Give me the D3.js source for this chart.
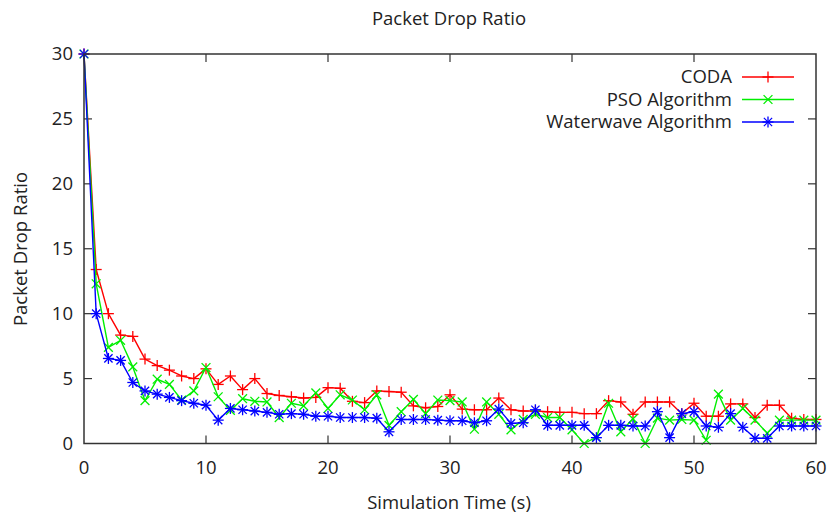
<!DOCTYPE html>
<html>
<head>
<meta charset="utf-8">
<script src="https://cdn.jsdelivr.net/npm/d3@7"></script>
<style>
  html, body { margin: 0; padding: 0; background: #ffffff; }
  svg text { font-family: "Open Sans", "DejaVu Sans", sans-serif; }
</style>
</head>
<body>
<svg id="chart"></svg>
<script>
// simulation time steps, 0..60 s
const timeSteps = d3.range(0, 61);

const codaValues = [
  30, 13.4, 10.0, 8.35, 8.25, 6.5, 6.0, 5.65, 5.2, 5.0,
  5.75, 4.55, 5.2, 4.15, 5.0, 3.85, 3.7, 3.6, 3.5, 3.55,
  4.3, 4.25, 3.25, 3.15, 4.05, 4.0, 3.95, 2.9, 2.75, 2.85,
  3.75, 2.65, 2.6, 2.6, 3.5, 2.6, 2.5, 2.5, 2.45, 2.4,
  2.4, 2.3, 2.3, 3.3, 3.2, 2.25, 3.2, 3.2, 3.2, 2.3,
  3.1, 2.1, 2.1, 3.05, 3.05, 2.0, 2.95, 2.95, 1.95, 1.85,
  1.85
];

const psoValues = [
  30, 12.3, 7.4, 7.95, 5.9, 3.3, 4.95, 4.55, 3.35, 4.05,
  5.85, 3.6, 2.55, 3.45, 3.25, 3.2, 2.0, 3.1, 2.9, 3.9,
  2.7, 3.75, 3.35, 2.6, 3.75, 1.4, 2.45, 3.4, 2.3, 3.35,
  3.3, 3.2, 1.1, 3.2, 2.25, 1.05, 1.85, 2.25, 2.0, 2.0,
  1.05, 0.0, 0.5, 3.1, 0.9, 1.9, 0.0, 1.95, 1.8, 1.85,
  1.8, 0.25, 3.8, 1.8, 2.7, 1.8, 0.8, 1.8, 1.8, 1.8,
  1.8
];

const waterwaveValues = [
  30, 10.0, 6.55, 6.4, 4.7, 4.05, 3.8, 3.55, 3.3, 3.1,
  2.95, 1.8, 2.7, 2.6, 2.5, 2.4, 2.25, 2.3, 2.25, 2.1,
  2.1, 2.0, 2.0, 2.0, 1.95, 0.9, 1.85, 1.85, 1.85, 1.8,
  1.75, 1.75, 1.6, 1.75, 2.65, 1.55, 1.6, 2.6, 1.4, 1.4,
  1.4, 1.4, 0.45, 1.4, 1.4, 1.35, 1.35, 2.45, 0.45, 2.3,
  2.45, 1.35, 1.25, 2.3, 1.25, 0.4, 0.4, 1.35, 1.35, 1.35,
  1.35
];

const xTicks = [0, 10, 20, 30, 40, 50, 60];
const yTicks = [0, 5, 10, 15, 20, 25, 30];

const seriesList = [
  { name: "CODA", values: codaValues, color: "#ff0000", marker: "plus" },
  { name: "PSO Algorithm", values: psoValues, color: "#00ee00", marker: "cross" },
  { name: "Waterwave Algorithm", values: waterwaveValues, color: "#0000ff", marker: "star" }
];

const width = 831;
const height = 516;
const plot = { left: 84, right: 816, top: 54, bottom: 443.5 };
const axisColor = "#333333";
const textColor = "#222222";
const fontSize = 18.5;

const svg = d3.select("#chart")
  .attr("width", width)
  .attr("height", height)
  .attr("viewBox", "0 0 " + width + " " + height);

const x = d3.scaleLinear().domain([0, 60]).range([plot.left, plot.right]);
const y = d3.scaleLinear().domain([0, 30]).range([plot.bottom, plot.top]);

// title
svg.append("text")
  .attr("x", 449)
  .attr("y", 25)
  .attr("text-anchor", "middle")
  .attr("font-size", fontSize)
  .attr("fill", textColor)
  .text("Packet Drop Ratio");

// axis labels
svg.append("text")
  .attr("x", 449)
  .attr("y", 509)
  .attr("text-anchor", "middle")
  .attr("font-size", fontSize)
  .attr("fill", textColor)
  .text("Simulation Time (s)");

svg.append("text")
  .attr("transform", "translate(27,249) rotate(-90)")
  .attr("text-anchor", "middle")
  .attr("font-size", fontSize)
  .attr("fill", textColor)
  .text("Packet Drop Ratio");

// tick labels
svg.append("g")
  .selectAll("text")
  .data(xTicks)
  .join("text")
  .attr("x", d => x(d))
  .attr("y", 474)
  .attr("text-anchor", "middle")
  .attr("font-size", fontSize)
  .attr("fill", textColor)
  .text(d => d);

svg.append("g")
  .selectAll("text")
  .data(yTicks)
  .join("text")
  .attr("x", 73)
  .attr("y", d => y(d))
  .attr("dy", "0.35em")
  .attr("text-anchor", "end")
  .attr("font-size", fontSize)
  .attr("fill", textColor)
  .text(d => d);

// inward ticks on all four sides (gnuplot mirror style)
const tickLen = 8;
const ticks = svg.append("g").attr("stroke", axisColor).attr("stroke-width", 1.2);
xTicks.slice(1, -1).forEach(function(t) {
  ticks.append("line").attr("x1", x(t)).attr("x2", x(t)).attr("y1", plot.bottom).attr("y2", plot.bottom - tickLen);
  ticks.append("line").attr("x1", x(t)).attr("x2", x(t)).attr("y1", plot.top).attr("y2", plot.top + tickLen);
});
yTicks.slice(1, -1).forEach(function(t) {
  ticks.append("line").attr("x1", plot.left).attr("x2", plot.left + tickLen).attr("y1", y(t)).attr("y2", y(t));
  ticks.append("line").attr("x1", plot.right).attr("x2", plot.right - tickLen).attr("y1", y(t)).attr("y2", y(t));
});

function drawMarker(g, type, cx, cy, color) {
  const s = 5.5;
  const m = g.append("g").attr("stroke", color).attr("stroke-width", 1.3).attr("fill", "none");
  if (type === "plus" || type === "star") {
    m.append("line").attr("x1", cx - s).attr("x2", cx + s).attr("y1", cy).attr("y2", cy);
    m.append("line").attr("x1", cx).attr("x2", cx).attr("y1", cy - s).attr("y2", cy + s);
  }
  if (type === "cross" || type === "star") {
    const k = type === "star" ? s * 0.75 : s * 0.8;
    m.append("line").attr("x1", cx - k).attr("x2", cx + k).attr("y1", cy - k).attr("y2", cy + k);
    m.append("line").attr("x1", cx - k).attr("x2", cx + k).attr("y1", cy + k).attr("y2", cy - k);
  }
}

const line = d3.line()
  .x((d, i) => x(timeSteps[i]))
  .y(d => y(d));

const plotArea = svg.append("g");
seriesList.forEach(function(s) {
  plotArea.append("path")
    .datum(s.values)
    .attr("fill", "none")
    .attr("stroke", s.color)
    .attr("stroke-width", 1.4)
    .attr("stroke-linejoin", "round")
    .attr("d", line);
  s.values.forEach(function(v, i) {
    drawMarker(plotArea, s.marker, x(timeSteps[i]), y(v), s.color);
  });
});

// frame
svg.append("rect")
  .attr("x", plot.left)
  .attr("y", plot.top)
  .attr("width", plot.right - plot.left)
  .attr("height", plot.bottom - plot.top)
  .attr("fill", "none")
  .attr("stroke", axisColor)
  .attr("stroke-width", 1.5);

// legend
const legend = svg.append("g");
seriesList.forEach(function(s, i) {
  const ly = 77 + i * 22.5;
  legend.append("text")
    .attr("x", 732)
    .attr("y", ly)
    .attr("dy", "0.35em")
    .attr("text-anchor", "end")
    .attr("font-size", fontSize)
    .attr("fill", textColor)
    .text(s.name);
  legend.append("line")
    .attr("x1", 742).attr("x2", 794)
    .attr("y1", ly).attr("y2", ly)
    .attr("stroke", s.color)
    .attr("stroke-width", 1.4);
  drawMarker(legend, s.marker, 768, ly, s.color);
});
</script>
</body>
</html>
